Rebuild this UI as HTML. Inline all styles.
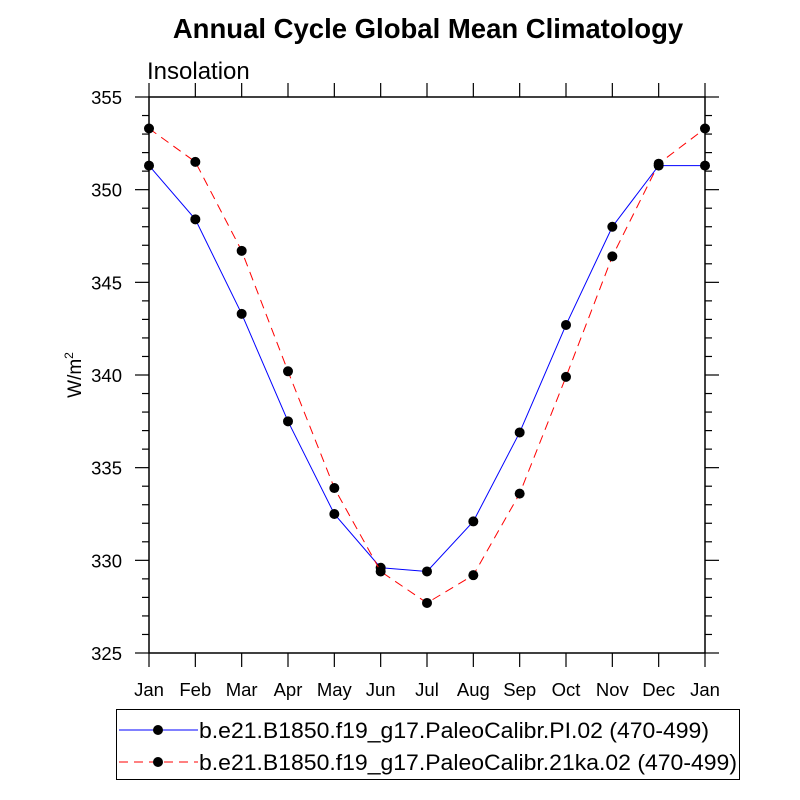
<!DOCTYPE html>
<html><head><meta charset="utf-8"><style>body{margin:0;background:#fff}svg{display:block;font-family:"Liberation Sans",sans-serif}</style></head>
<body>
<svg id="c" width="800" height="800" xmlns="http://www.w3.org/2000/svg">
<text x="428" y="38" text-anchor="middle" font-size="27.5" font-weight="bold">Annual Cycle Global Mean Climatology</text>
<text x="147" y="79" font-size="24">Insolation</text>
<text transform="translate(81,375) rotate(-90)" text-anchor="middle" font-size="19">W/m<tspan font-size="12" dy="-8">2</tspan></text>
<g id="axes"></g><g id="series"></g>
<g>
<rect x="116.5" y="709.5" width="623" height="70" fill="none" stroke="#000"/>
<g>
<line x1="119" y1="730" x2="198" y2="730" stroke="#00f" stroke-width="1"/>
<circle cx="158" cy="730" r="5" fill="#000"/>
<text x="199" y="738" font-size="22.5" textLength="510" lengthAdjust="spacingAndGlyphs">b.e21.B1850.f19_g17.PaleoCalibr.PI.02 (470-499)</text></g>
<g>
<line x1="119" y1="762" x2="198" y2="762" stroke="#f00" stroke-dasharray="9,6"/>
<circle cx="158" cy="762" r="5" fill="#000"/>
<text x="199" y="770" font-size="22.5" textLength="538" lengthAdjust="spacingAndGlyphs">b.e21.B1850.f19_g17.PaleoCalibr.21ka.02 (470-499)</text></g>
</g>
</svg>
<script>
const months=["Jan","Feb","Mar","Apr","May","Jun","Jul","Aug","Sep","Oct","Nov","Dec","Jan"];
const piValues=[351.3,348.4,343.3,337.5,332.5,329.6,329.4,332.1,336.9,342.7,348.0,351.3,351.3];
const ka21Values=[353.3,351.5,346.7,340.2,333.9,329.4,327.7,329.2,333.6,339.9,346.4,351.4,353.3];
const yTicks=[325,330,335,340,345,350,355];
const NS="http://www.w3.org/2000/svg";
const L=149,R=705,T=97,B=653,ymin=325,ymax=355;
const xs=i=>L+i*(R-L)/(months.length-1);
const ys=v=>B-(v-ymin)/(ymax-ymin)*(B-T);
function mk(p,tag,a){const e=document.createElementNS(NS,tag);for(const k in a)e.setAttribute(k,a[k]);p.appendChild(e);return e;}
const ax=document.getElementById('axes');
let f=mk(ax,'rect',{x:L,y:T,width:R-L,height:B-T,fill:'none',stroke:'#000','stroke-width':1.5});


months.forEach((m,i)=>{const x=xs(i);
mk(ax,'line',{x1:x,y1:B,x2:x,y2:B+14,stroke:'#000','stroke-width':1.2});
mk(ax,'line',{x1:x,y1:T,x2:x,y2:T-14,stroke:'#000','stroke-width':1.2});
const t=mk(ax,'text',{x:x,y:B+43,'text-anchor':'middle','font-size':18.5});t.textContent=m;

});
for(let v=ymin;v<=ymax;v++){const y=ys(v),maj=(v%5===0),len=maj?14:7;
mk(ax,'line',{x1:L,y1:y,x2:L-len,y2:y,stroke:'#000','stroke-width':1.2});
mk(ax,'line',{x1:R,y1:y,x2:R+len,y2:y,stroke:'#000','stroke-width':1.2});}
yTicks.forEach(v=>{const t=mk(ax,'text',{x:L-27,y:ys(v)+7,'text-anchor':'end','font-size':18.5});t.textContent=v;

});
const sg=document.getElementById('series');
function draw(vals,color,dash,name){const g=mk(sg,'g',{});


const a={points:vals.map((v,i)=>xs(i)+','+ys(v)).join(' '),fill:'none',stroke:color,'stroke-width':1};
if(dash)a['stroke-dasharray']=dash;mk(g,'polyline',a);
vals.forEach((v,i)=>{const c=mk(g,'circle',{cx:xs(i),cy:ys(v),r:5,fill:'#000'});

});}
draw(piValues,'#00f',null,'series-pi');
draw(ka21Values,'#f00','9,6','series-21ka');
</script>
</body></html>
